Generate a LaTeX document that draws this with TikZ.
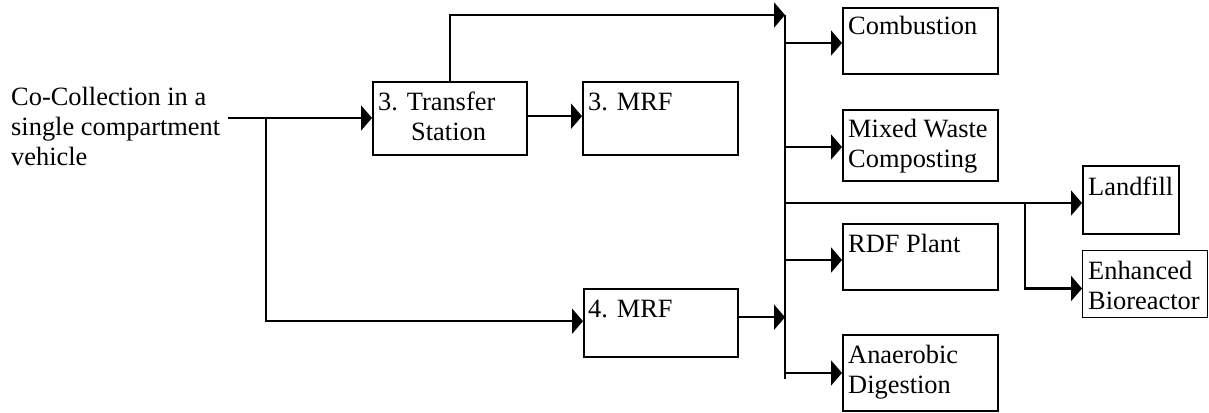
\documentclass[tikz,border=0pt]{standalone}
\usepackage{fontspec}
\setmainfont{Liberation Serif}
\usetikzlibrary{arrows.meta}
\begin{document}
\begin{tikzpicture}[x=1pt,y=-1pt,line width=2.4pt,
  box/.style={draw,rectangle,anchor=north west,inner sep=0pt,line width=2.4pt},
  thinbox/.style={box,line width=1pt},
  txt/.style={anchor=base west,inner sep=0pt,font=\fontsize{26.4}{30.4}\selectfont},
  arr/.style={-{Triangle[length=11pt,width=25pt]}}]
\useasboundingbox (0,0) rectangle (1209,412);

% starting point of the collection route
\node[txt] (src) at (10,105) {\parbox[t]{215pt}{Co-Collection in a\\single compartment\\vehicle}};

% processing boxes
\node[box,minimum width=154pt,minimum height=73pt] (ts)   at (372,81)  {};
\node[box,minimum width=155pt,minimum height=73pt] (mrf3) at (582,81)  {};
\node[box,minimum width=154pt,minimum height=68pt] (mrf4) at (583,288) {};
\node[box,minimum width=155pt,minimum height=66pt] (comb) at (842,7)   {};
\node[box,minimum width=155pt,minimum height=71pt] (mix)  at (842,109) {};
\node[box,minimum width=155pt,minimum height=66pt] (rdf)  at (842,223) {};
\node[box,minimum width=155pt,minimum height=76pt] (ana)  at (842,334) {};
\node[box,minimum width=96pt,minimum height=68pt]  (land) at (1082,165) {};
\node[thinbox,minimum width=125pt,minimum height=67pt] (enh) at (1082,250) {};

% box captions, set at the top left of each box
\node[txt] (ts-t)   at ([shift={(5,29)}]ts.north west)   {\parbox[t]{150pt}{3. Transfer\\\hspace*{33pt}Station}};
\node[txt] (mrf3-t) at ([shift={(5,29)}]mrf3.north west) {3. MRF};
\node[txt] (mrf4-t) at ([shift={(4,29)}]mrf4.north west) {4. MRF};
\node[txt] (comb-t) at ([shift={(5,28)}]comb.north west) {Combustion};
\node[txt] (mix-t)  at ([shift={(5,28)}]mix.north west)  {\parbox[t]{150pt}{Mixed Waste\\Composting}};
\node[txt] (rdf-t)  at ([shift={(5,29)}]rdf.north west)  {RDF Plant};
\node[txt] (ana-t)  at ([shift={(5,29)}]ana.north west)  {\parbox[t]{150pt}{Anaerobic\\Digestion}};
\node[txt] (land-t) at ([shift={(5,30)}]land.north west) {Landfill};
\node[txt] (enh-t)  at ([shift={(5,29)}]enh.north west)  {\parbox[t]{120pt}{Enhanced\\Bioreactor}};

% junction points
\coordinate (in)     at (228,118);
\coordinate (fork)   at (266,118);
\coordinate (bustop) at (785,15);
\coordinate (busbot) at (785,379);
\coordinate (bcomb)  at (785,43);
\coordinate (bmix)   at (785,147);
\coordinate (bland)  at (785,203);
\coordinate (brdf)   at (785,260);
\coordinate (bana)   at (785,373);
\coordinate (lfork)  at (1025,203);

% connectors
\draw[arr] (in) -- (in -| ts.west);
\draw[arr] ([yshift=2.5pt]ts.east) -- ([yshift=2.5pt]mrf3.west);
\draw[arr] (ts.north) |- (bustop);
\draw[arr] (fork) |- ([yshift=2pt]mrf4.west);
\draw[arr] ([yshift=6pt]mrf4.east) -- ([yshift=6pt]mrf4.east -| bustop);
\draw (bustop) -- (busbot);
\draw[arr] (bcomb) -- (bcomb -| comb.west);
\draw[arr] (bmix) -- (bmix -| mix.west);
\draw[arr] (brdf) -- (brdf -| rdf.west);
\draw[arr] (bana) -- (bana -| ana.west);
\draw[arr] (bland) -- (bland -| land.west);
\draw[arr] (lfork) |- ([yshift=-4.5pt]enh.west);
\end{tikzpicture}
\end{document}
